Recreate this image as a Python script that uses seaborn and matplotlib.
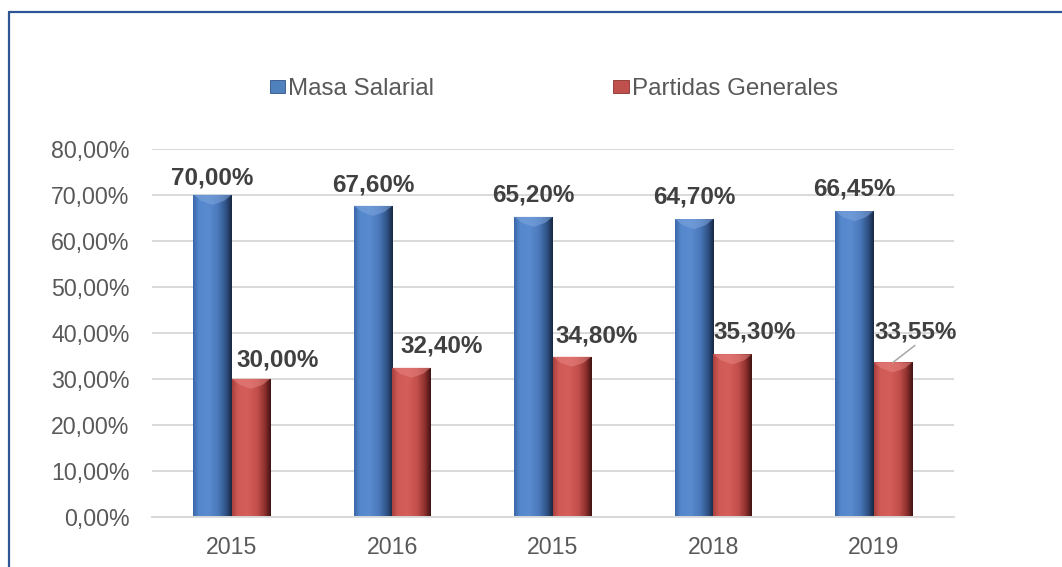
import numpy as np
import pandas as pd
import matplotlib
matplotlib.use("Agg")
import matplotlib.pyplot as plt
import seaborn as sns
from matplotlib.colors import LinearSegmentedColormap
from matplotlib.patches import Patch, Polygon
from matplotlib.lines import Line2D
from matplotlib.ticker import FuncFormatter, MultipleLocator

# ---- data ----
years = ["2015", "2016", "2015", "2018", "2019"]
series = ["Masa Salarial", "Partidas Generales"]
masa_salarial = [0.70, 0.676, 0.652, 0.647, 0.6645]
partidas_generales = [0.30, 0.324, 0.348, 0.353, 0.3355]

df = pd.DataFrame({
    "pos": list(range(len(years))) * 2,
    "serie": [series[0]] * len(years) + [series[1]] * len(years),
    "valor": masa_salarial + partidas_generales,
})

sns.set_theme(style="white")
plt.rcParams["font.family"] = ["Liberation Sans", "DejaVu Sans"]

DPI = 100
fig = plt.figure(figsize=(10.62, 5.67), dpi=DPI)
ax = fig.add_axes([0.1428, 0.0887, 0.7555, 0.6490])

base_colors = ["#4F81BD", "#C0504D"]
sns.barplot(data=df, x="pos", y="valor", hue="serie", hue_order=series,
            palette=base_colors, width=0.48, gap=0, saturation=1,
            errorbar=None, legend=False, edgecolor="none", linewidth=0, ax=ax)

ax.set_ylim(0, 0.8)
ax.set_xlim(-0.5, len(years) - 0.5)
ax.yaxis.set_major_locator(MultipleLocator(0.1))
ax.yaxis.set_major_formatter(FuncFormatter(lambda v, p: f"{v*100:.2f}%".replace(".", ",")))
ax.set_xticks(range(len(years)))
ax.set_xticklabels(years)
ax.set_xlabel("")
ax.set_ylabel("")
ax.grid(axis="y", color="#D9D9D9", linewidth=1.4)
ax.grid(axis="x", visible=False)
ax.set_axisbelow(True)
for s in ["left", "right", "top"]:
    ax.spines[s].set_visible(False)
ax.spines["bottom"].set_color("#D9D9D9")
ax.spines["bottom"].set_linewidth(1.4)
ax.tick_params(axis="y", length=0, pad=16, labelsize=16.7, labelcolor="#595959")
ax.tick_params(axis="x", length=0, pad=14, labelsize=16.7, labelcolor="#595959")

# ---- cylinder-like shading ----
cmaps = [
    LinearSegmentedColormap.from_list("b", [(0, "#3A66A8"), (0.15, "#5587CC"), (0.4, "#5A8BD0"),
                                             (0.65, "#4A78BA"), (0.85, "#2F5285"), (1.0, "#17263F")]),
    LinearSegmentedColormap.from_list("r", [(0, "#A8403D"), (0.15, "#CF5A56"), (0.4, "#D45E5A"),
                                             (0.65, "#C24F4B"), (0.85, "#8C302D"), (1.0, "#3E1212")]),
]
bevel_colors = ["#7FA6DE", "#E88480"]
grad = np.linspace(0, 1, 256).reshape(1, -1)
for cont, cm, bc in zip(ax.containers, cmaps, bevel_colors):
    for bar in cont:
        x0, y0 = bar.get_x(), bar.get_y()
        w, h = bar.get_width(), bar.get_height()
        im = ax.imshow(grad, cmap=cm, extent=(x0, x0 + w, y0, y0 + h),
                       aspect="auto", zorder=bar.get_zorder() + 0.1, interpolation="bicubic")
        im.set_clip_path(bar)
        bh = 0.022
        top = y0 + h
        poly = Polygon([(x0, top), (x0 + w, top), (x0 + 0.8 * w, top - bh * 0.6),
                        (x0 + 0.5 * w, top - bh), (x0 + 0.2 * w, top - bh * 0.6)],
                       closed=True, facecolor=bc, edgecolor="none", alpha=0.55,
                       zorder=bar.get_zorder() + 0.2)
        ax.add_patch(poly)

ax.set_ylim(0, 0.8)
ax.set_xlim(-0.5, len(years) - 0.5)

# ---- data labels ----
px = 72.0 / DPI
label_dx = [[0, 0, 0, 0, 0], [27, 30, 25, 22, 23]]
label_gap = [[10, 14, 15, 16, 16], [12, 15.5, 14.5, 16, 24]]
values = [masa_salarial, partidas_generales]
for si, cont in enumerate(ax.containers):
    for i, bar in enumerate(cont):
        xc = bar.get_x() + bar.get_width() / 2
        top = bar.get_height()
        txt = f"{values[si][i]*100:.2f}%".replace(".", ",")
        ax.annotate(txt, xy=(xc, top), xytext=(label_dx[si][i] * px, label_gap[si][i] * px),
                    textcoords="offset points", ha="center", va="baseline",
                    fontsize=17.5, fontweight="bold", color="#404040", zorder=10)
# leader line for last red label
last = ax.containers[1][-1]
ax.annotate("", xy=(last.get_x() + last.get_width() / 2, last.get_height()),
            xytext=(22 * px, 17 * px), textcoords="offset points",
            arrowprops=dict(arrowstyle="-", color="#A6A6A6", lw=1.1, shrinkA=0, shrinkB=0),
            zorder=10)

# ---- legend ----
handles = [Patch(facecolor=base_colors[0], edgecolor="#2F5285", linewidth=0.6),
           Patch(facecolor=base_colors[1], edgecolor="#8C302D", linewidth=0.6)]
fig.legend(handles, series, loc="center", bbox_to_anchor=(0.5215, 0.843), ncol=2,
           frameon=False, fontsize=17.4, handlelength=0.65, handleheight=0.5,
           handletextpad=0.12, columnspacing=7.4, labelcolor="#595959")

# ---- outer frame ----
fx = 8.5 / 1062
fy = 1 - 11.7 / 567
fig.add_artist(Line2D([fx, fx], [-0.05, fy], transform=fig.transFigure, color="#2F5597", lw=1.6))
fig.add_artist(Line2D([fx, 1.05], [fy, fy], transform=fig.transFigure, color="#2F5597", lw=1.6))

fig.savefig("out.png", dpi=DPI)
